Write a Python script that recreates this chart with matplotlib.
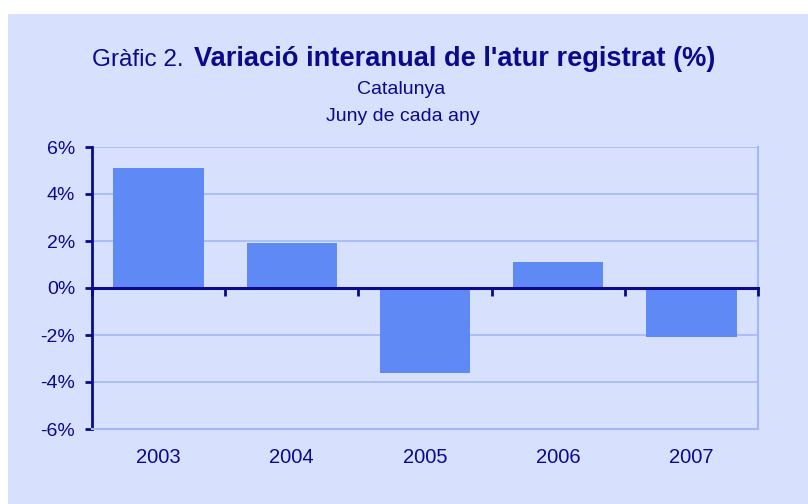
import matplotlib
matplotlib.use("Agg")
import matplotlib.pyplot as plt
from matplotlib.patches import Rectangle
import numpy as np

years = ["2003", "2004", "2005", "2006", "2007"]
values = [5.1, 1.9, -3.6, 1.1, -2.1]
yticks = [-6, -4, -2, 0, 2, 4, 6]

BG = "#D7E0FC"
BAR = "#5F89F5"
NAVY = "#0A0A8C"
GRID = "#A3B8F5"

plt.rcParams['font.family'] = ['Liberation Sans', 'DejaVu Sans']

fig = plt.figure(figsize=(8.08, 5.04), dpi=100)
fig.patch.set_facecolor("white")
fig.patches.append(Rectangle((8/808, 0), 1, 1 - 14/504, transform=fig.transFigure,
                             facecolor=BG, edgecolor="none", zorder=-10))

ax = fig.add_axes([92/808, 75/504, 666/808, 282/504])
ax.set_facecolor(BG)
x = np.arange(len(years))
ax.bar(x, values, width=0.68, color=BAR, zorder=2)
ax.set_xlim(-0.5, len(years) - 0.5)
ax.set_ylim(-6, 6)
ax.set_yticks(yticks)
ax.set_yticklabels([f"{v}%" for v in yticks])
ax.yaxis.grid(True, color=GRID, lw=1.2, zorder=0)
ax.set_axisbelow(True)
ax.set_xticks(x)
ax.set_xticklabels(years)
ax.tick_params(axis='x', length=0, pad=14, labelsize=14.5, labelcolor=NAVY)
ax.tick_params(axis='y', length=5, width=2, color=NAVY, pad=7, labelsize=14, labelcolor=NAVY)
ax.spines["top"].set_visible(False)
ax.spines["right"].set_color(GRID)
ax.spines["right"].set_linewidth(1.5)
ax.spines["bottom"].set_color(GRID)
ax.spines["bottom"].set_linewidth(1.5)
ax.spines["left"].set_color(NAVY)
ax.spines["left"].set_linewidth(2)

# zero axis line with category-boundary ticks
sec = ax.secondary_xaxis(0.5)
sec.set_xticks(np.arange(len(years) + 1) - 0.5)
sec.set_xticklabels([])
for s in sec.spines.values():
    s.set_color(NAVY)
    s.set_linewidth(2.2)
sec.tick_params(axis='x', which='both', length=6, width=2, color=NAVY,
                direction='out', top=False, bottom=True)
sec.set_zorder(3)

# Title
fig.text(92/808, 1 - 66/504, "Gràfic 2.", fontsize=17.5, color=NAVY, ha="left", va="baseline")
fig.text(194/808, 1 - 66/504, "Variació interanual de l'atur registrat (%)", fontsize=19.6,
         fontweight="bold", color=NAVY, ha="left", va="baseline")
fig.text(401/808, 1 - 94/504, "Catalunya", fontsize=14, color=NAVY, ha="center", va="baseline")
fig.text(403/808, 1 - 121/504, "Juny de cada any", fontsize=14, color=NAVY, ha="center", va="baseline")

fig.savefig("out.png", dpi=100, facecolor=fig.get_facecolor())
